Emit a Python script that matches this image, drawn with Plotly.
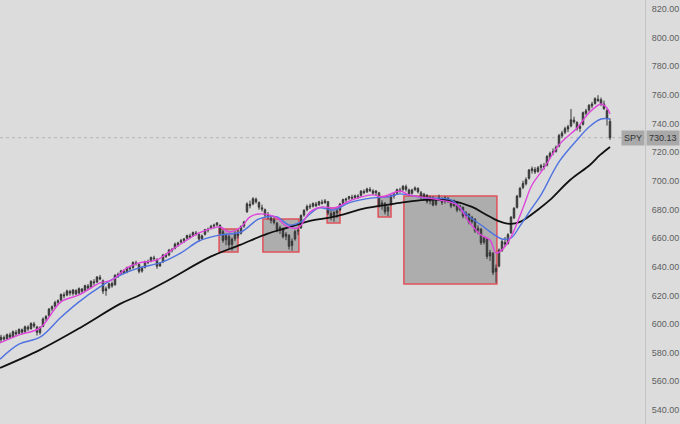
import plotly.graph_objects as go

# ---------------- data ----------------
opens = [589.0, 590.5, 589.8, 592.4, 591.2, 594.2, 593.5, 596.0, 594.6, 597.8,
         596.8, 600.1, 597.9, 594.0, 598.4, 603.7, 606.0, 610.6, 612.5, 615.2,
         616.8, 620.4, 620.3, 622.8, 621.3, 623.5, 621.6, 624.4, 623.6, 626.5,
         625.8, 629.5, 629.4, 632.6, 630.2, 623.4, 625.3, 628.4, 627.4, 633.8,
         635.2, 636.8, 636.4, 639.2, 639.5, 642.7, 641.6, 637.0, 639.7, 643.4,
         644.0, 646.2, 645.1, 640.7, 643.5, 648.0, 648.3, 651.4, 653.0, 655.6,
         657.3, 658.4, 660.0, 661.5, 661.8, 663.6, 662.5, 659.7, 662.7, 665.6,
         667.0, 668.5, 669.3, 668.9, 664.5, 658.9, 661.2, 655.7, 659.6, 663.0,
         663.4, 668.4, 678.5, 683.6, 683.9, 687.2, 684.8, 681.2, 679.8, 676.4,
         674.1, 672.7, 670.4, 666.2, 666.5, 661.4, 661.9, 654.8, 659.4, 664.9,
         667.3, 676.1, 679.8, 682.4, 682.3, 683.8, 683.5, 685.1, 684.9, 685.4,
         677.2, 675.8, 677.6, 679.8, 684.3, 686.6, 687.8, 688.5, 688.4, 689.3,
         689.9, 692.5, 692.4, 694.0, 693.0, 691.7, 691.6, 683.4, 684.1, 678.8,
         683.5, 689.4, 691.4, 693.7, 693.9, 695.9, 693.6, 691.3, 693.9, 694.7,
         691.7, 688.8, 689.9, 685.9, 688.0, 683.6, 687.3, 687.6, 685.6, 687.8,
         686.1, 682.8, 685.2, 679.9, 681.4, 675.8, 676.6, 671.4, 673.1, 665.5,
         666.2, 657.2, 659.3, 647.6, 649.4, 636.5, 640.5, 651.3, 657.0, 656.4,
         663.8, 674.2, 681.5, 689.0, 695.4, 698.0, 701.8, 707.2, 707.9, 706.6,
         709.4, 710.2, 711.0, 716.8, 719.8, 720.6, 724.3, 731.4, 733.9, 736.2,
         738.3, 742.4, 740.8, 736.7, 739.5, 747.2, 749.5, 752.4, 754.1, 757.0,
         756.6, 753.6, 749.0, 741.5]
highs = [592.5, 592.0, 593.4, 594.0, 595.5, 595.8, 597.0, 596.9, 598.9, 599.1,
         601.2, 601.5, 598.8, 598.5, 604.6, 606.2, 611.2, 613.0, 616.3, 617.2,
         621.4, 622.1, 624.0, 623.9, 624.5, 624.2, 625.6, 625.2, 627.5, 628.0,
         630.6, 631.4, 633.4, 634.3, 631.1, 626.2, 628.9, 629.6, 634.8, 635.9,
         637.9, 638.2, 640.1, 640.6, 643.8, 644.2, 642.4, 640.4, 644.3, 645.0,
         647.1, 647.7, 645.9, 643.3, 649.0, 649.5, 652.5, 653.0, 656.9, 657.5,
         659.5, 660.1, 662.4, 663.1, 664.6, 665.0, 663.3, 662.6, 666.5, 667.4,
         669.3, 670.1, 671.2, 669.6, 665.9, 663.2, 662.5, 660.4, 664.8, 666.1,
         668.9, 672.1, 685.0, 686.2, 688.6, 688.3, 685.6, 683.4, 680.7, 678.2,
         675.8, 674.9, 671.3, 668.7, 667.4, 664.2, 662.8, 659.7, 665.8, 667.7,
         676.6, 680.2, 683.4, 684.0, 685.0, 685.3, 686.1, 686.9, 687.3, 686.0,
         679.3, 678.9, 680.5, 684.6, 687.6, 688.2, 689.5, 690.3, 690.4, 690.7,
         693.5, 694.0, 695.2, 695.6, 694.1, 693.6, 692.3, 686.5, 685.2, 682.5,
         690.5, 691.6, 694.6, 695.2, 697.0, 697.4, 694.6, 694.5, 696.1, 695.5,
         692.9, 691.6, 690.7, 689.6, 689.2, 687.7, 690.4, 688.5, 689.3, 688.7,
         687.2, 686.9, 686.0, 683.4, 682.2, 678.9, 677.5, 675.6, 674.0, 668.9,
         667.1, 661.5, 660.2, 651.8, 650.3, 641.5, 652.8, 659.0, 660.8, 663.5,
         675.4, 681.7, 690.2, 695.8, 700.1, 702.4, 708.3, 710.0, 709.6, 710.3,
         711.8, 712.5, 717.9, 720.4, 722.6, 724.7, 732.8, 734.9, 737.8, 739.1,
         750.2, 744.8, 741.6, 739.5, 748.4, 750.3, 753.6, 755.1, 758.3, 759.8,
         758.2, 756.0, 750.2, 743.6]
lows = [587.0, 588.2, 589.0, 589.9, 590.4, 591.6, 592.8, 592.6, 593.9, 595.2,
        596.0, 597.4, 592.0, 592.6, 597.8, 602.1, 605.1, 608.9, 611.4, 613.5,
        615.9, 618.0, 619.4, 619.8, 619.9, 620.1, 620.8, 621.5, 622.4, 623.7,
        624.9, 627.2, 628.6, 630.6, 621.0, 619.8, 624.4, 625.4, 626.9, 632.2,
        634.3, 634.9, 635.5, 637.3, 638.6, 640.9, 635.4, 635.9, 638.8, 641.9,
        643.1, 644.4, 638.6, 639.9, 642.6, 646.1, 647.4, 650.0, 652.1, 654.0,
        656.2, 656.6, 659.1, 659.8, 660.9, 661.8, 657.6, 658.8, 661.8, 664.0,
        666.1, 666.7, 668.2, 662.1, 656.8, 655.0, 652.6, 651.3, 657.9, 659.8,
        662.5, 667.2, 677.6, 680.8, 683.0, 684.2, 679.7, 678.6, 674.5, 673.0,
        670.2, 669.6, 664.1, 662.9, 659.8, 658.6, 652.0, 651.2, 658.2, 662.1,
        666.4, 675.0, 678.7, 680.3, 681.4, 681.6, 682.5, 683.5, 683.9, 676.2,
        672.4, 671.5, 674.2, 678.9, 683.4, 685.0, 686.6, 686.9, 687.3, 687.4,
        689.0, 690.7, 691.5, 692.2, 690.2, 689.9, 681.4, 679.8, 676.6, 675.4,
        682.6, 687.6, 690.5, 691.8, 693.0, 692.5, 689.3, 690.4, 692.8, 691.2,
        687.1, 686.3, 684.1, 683.6, 682.2, 682.5, 685.9, 683.2, 684.1, 684.6,
        680.9, 681.7, 678.1, 678.6, 673.9, 673.7, 669.6, 670.1, 663.6, 662.7,
        655.2, 655.6, 645.4, 644.1, 634.2, 628.8, 639.6, 650.4, 653.9, 655.5,
        662.9, 673.3, 680.6, 688.1, 694.2, 696.8, 700.9, 705.1, 704.8, 705.7,
        707.0, 707.8, 710.1, 715.3, 717.9, 719.7, 723.4, 729.8, 732.6, 734.0,
        737.4, 740.0, 735.1, 734.2, 738.6, 745.8, 748.4, 750.8, 753.2, 755.1,
        752.3, 749.4, 738.6, 728.6]
closes = [590.8, 589.6, 592.6, 590.9, 594.6, 593.1, 596.2, 594.3, 598.1, 596.5,
          600.4, 598.6, 594.2, 597.6, 603.5, 605.3, 610.4, 612.1, 615.0, 616.3,
          620.6, 619.8, 623.1, 621.6, 623.7, 621.1, 624.7, 622.9, 626.8, 625.1,
          629.8, 628.9, 632.9, 631.4, 623.0, 624.6, 628.1, 626.6, 634.0, 634.7,
          637.1, 635.8, 639.5, 638.7, 643.0, 642.3, 636.8, 638.9, 643.6, 643.2,
          646.5, 645.8, 640.4, 642.3, 648.2, 647.4, 651.6, 652.2, 655.8, 656.5,
          658.1, 659.4, 661.8, 660.6, 663.9, 663.2, 659.4, 661.5, 665.9, 666.1,
          668.2, 669.0, 670.6, 663.4, 658.4, 661.7, 655.3, 659.2, 663.4, 661.9,
          668.1, 671.3, 683.9, 682.7, 687.5, 685.4, 681.6, 680.3, 676.1, 674.6,
          672.4, 671.0, 665.8, 667.3, 661.0, 662.7, 654.3, 657.9, 664.6, 665.3,
          675.8, 679.4, 682.1, 681.9, 684.1, 682.7, 685.4, 684.4, 686.0, 677.5,
          675.3, 678.0, 679.1, 683.8, 686.9, 687.3, 688.9, 688.0, 689.6, 688.7,
          692.8, 691.9, 694.3, 693.4, 691.4, 692.9, 683.0, 684.6, 678.4, 681.6,
          689.7, 690.8, 693.9, 693.1, 696.2, 694.1, 691.0, 693.6, 695.0, 692.4,
          688.5, 690.6, 685.6, 688.4, 683.1, 686.9, 688.1, 685.0, 688.2, 685.5,
          682.4, 685.9, 679.6, 682.3, 675.4, 677.5, 671.0, 674.4, 665.1, 666.8,
          656.8, 660.3, 647.2, 649.9, 636.0, 638.9, 651.7, 657.6, 655.8, 662.4,
          674.6, 680.8, 689.3, 694.7, 698.2, 700.9, 707.5, 708.4, 706.2, 709.1,
          710.6, 709.7, 717.1, 719.2, 720.3, 723.5, 731.6, 733.4, 736.4, 737.8,
          742.6, 741.3, 736.4, 737.9, 747.6, 748.9, 752.7, 753.6, 757.4, 756.2,
          754.0, 750.5, 743.8, 730.13]
bar_index = list(range(len(closes)))

# moving averages (read at sample bars)
ma_fast_x = [-0.3, 6, 13, 20, 26, 33, 37, 42, 46, 52, 57, 62, 66, 73, 76, 80, 83, 86,
             92, 95, 99, 103, 107, 111, 117, 124, 127, 133, 136, 146, 152, 156, 160,
             163, 165, 167, 170, 174, 177, 181, 186, 192, 196, 200, 202, 203]
ma_fast_y = [586.8, 592.4, 597.3, 615.5, 620.3, 628.7, 630.8, 639.2, 642.7, 644.8,
             651.8, 658.7, 663.6, 667.8, 664.3, 667.8, 674.8, 676.9, 674.1, 668.5,
             667.1, 678.3, 681.8, 681.1, 686.7, 690.2, 688.8, 692.9, 690.2, 686.7,
             683.2, 671.3, 662.2, 658.7, 649.7, 651.8, 660.8, 681.1, 697.1, 709.0,
             725.1, 736.9, 747.4, 753.7, 750.9, 746.7]
ma_mid_x = [-0.3, 6, 13, 20, 26, 33, 40, 46, 53, 60, 66, 73, 80, 86, 92, 96, 100, 103,
            106, 111, 116, 124, 129, 133, 141, 150, 155, 160, 164, 167, 170, 173, 177,
            180, 186, 192, 196, 200, 203]
ma_mid_y = [575.5, 585.9, 590.8, 604.8, 615.5, 625.9, 634.3, 639.2, 642.7, 649.7,
            658.0, 662.2, 664.3, 673.4, 674.8, 669.2, 671.3, 676.9, 681.1, 679.7,
            684.6, 688.1, 688.8, 690.9, 688.1, 686.7, 676.9, 669.2, 663.0, 659.4,
            660.1, 668.5, 681.1, 690.2, 713.2, 728.5, 737.6, 743.2, 743.2]
ma_slow_x = [-0.3, 13, 26.3, 39.7, 46.3, 55.3, 69.7, 79.7, 88.7, 95.3, 103, 110.7, 122,
             133, 141.3, 150.3, 157, 161.3, 165.7, 169.7, 173, 179.7, 183, 189.7, 196.3,
             199.7, 203]
ma_slow_y = [569.4, 582.0, 597.3, 614.1, 620.3, 630.1, 646.9, 655.3, 663.0, 667.1,
             672.0, 674.8, 681.1, 684.6, 686.7, 686.0, 681.8, 676.9, 672.0, 669.9,
             671.3, 681.1, 686.7, 700.6, 711.1, 718.1, 723.7]

# highlighted zones
zone_start = [72.7, 87.3, 108.7, 125.7, 134.3]
zone_end = [79.0, 99.3, 113.0, 130.0, 165.3]
zone_low = [650.4, 650.4, 670.6, 674.8, 628.0]
zone_high = [666.4, 673.4, 681.1, 689.0, 689.5]

y_ticks = [540, 560, 580, 600, 620, 640, 660, 680, 700, 720, 740, 760, 780, 800, 820]
symbol = "SPY"
last_price = 730.13

# ---------------- figure ----------------
BG = "#dcdcdc"
FONT = "Liberation Sans, Arial"
fig = go.Figure()

fig.add_trace(go.Scatter(x=ma_slow_x, y=ma_slow_y, mode="lines",
                         line=dict(color="#111111", width=1.8, shape="spline"),
                         hoverinfo="skip"))
fig.add_trace(go.Scatter(x=ma_mid_x, y=ma_mid_y, mode="lines",
                         line=dict(color="#4f72e0", width=1.4, shape="spline"),
                         hoverinfo="skip"))
fig.add_trace(go.Scatter(x=ma_fast_x, y=ma_fast_y, mode="lines",
                         line=dict(color="#df45dc", width=1.4, shape="spline"),
                         hoverinfo="skip"))
fig.add_trace(go.Candlestick(
    x=bar_index, open=opens, high=highs, low=lows, close=closes,
    increasing=dict(line=dict(color="#363636", width=1), fillcolor="#444444"),
    decreasing=dict(line=dict(color="#363636", width=1), fillcolor="#444444"),
    whiskerwidth=0, hoverinfo="skip"))

for x0, x1, lo, hi in zip(zone_start, zone_end, zone_low, zone_high):
    fig.add_shape(type="rect", xref="x", yref="y", x0=x0, x1=x1, y0=lo, y1=hi,
                  fillcolor="#adadad", line=dict(color="#e0505a", width=1.5),
                  layer="below")

fig.add_shape(type="line", xref="paper", yref="y", x0=0, x1=1,
              y0=last_price, y1=last_price,
              line=dict(color="#b4b4b4", width=1, dash="dot"), layer="below")

fig.add_annotation(x=1, xref="paper", y=last_price, yref="y", xanchor="right",
                   yanchor="middle", text=symbol, showarrow=False,
                   bgcolor="#a9a9a9", borderpad=2,
                   font=dict(family=FONT, size=9, color="#333333"))
fig.add_annotation(x=1, xref="paper", y=last_price, yref="y", xanchor="left",
                   yanchor="middle", text=f"{last_price:.2f}", showarrow=False,
                   bgcolor="#a9a9a9", borderpad=2, xshift=1,
                   font=dict(family=FONT, size=9, color="#333333"))

fig.update_layout(
    width=680, height=424,
    margin=dict(l=0, r=35, t=0, b=0),
    paper_bgcolor=BG, plot_bgcolor=BG,
    showlegend=False,
    hovermode=False,
    xaxis=dict(range=[-0.333, 214.667], visible=False,
               rangeslider=dict(visible=False), showgrid=False, zeroline=False),
    yaxis=dict(range=[530.2, 826.3], side="right", showgrid=False, zeroline=False,
               tickvals=y_ticks, ticktext=[f"{v:.2f}" for v in y_ticks],
               tickfont=dict(family=FONT, size=9, color="#5e5e5e"),
               showline=True, linecolor="#c4c4c4", linewidth=1,
               ticks="", automargin=False, ticklabelstandoff=4),
)

fig.write_html("out.html",
               config={"displayModeBar": False, "staticPlot": True},
               post_script="document.body.style.margin='0';"
                           "document.body.style.background='#dcdcdc';"
                           "document.body.style.overflow='hidden';")
